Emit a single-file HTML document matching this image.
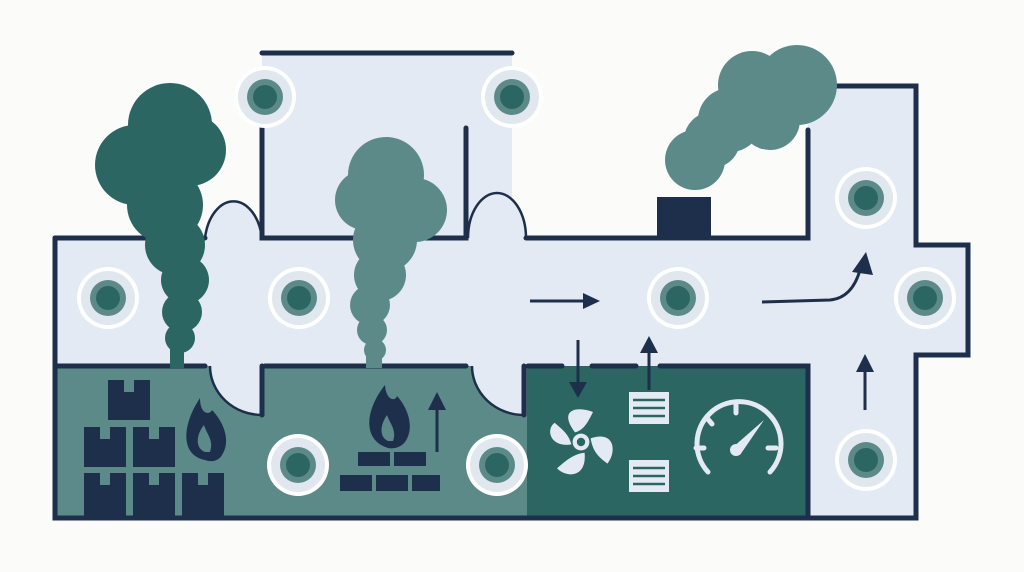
<!DOCTYPE html>
<html><head><style>html,body{margin:0;padding:0;background:#fbfbfa;}svg{display:block}</style></head>
<body>
<svg width="1024" height="572" viewBox="0 0 1024 572" xmlns="http://www.w3.org/2000/svg">
<defs>
<g id="c">
<circle r="31" fill="#fff"/><circle r="27" fill="#e0e7ee"/><circle r="18" fill="#5c8a89"/><circle r="12" fill="#2b6663"/>
</g>
</defs>
<rect width="1024" height="572" fill="#fbfbfa"/>
<rect x="262" y="53" width="250" height="190" fill="#e4eaf3"/>
<rect x="55" y="238" width="753" height="130" fill="#e4eaf3"/>
<rect x="808" y="86" width="108" height="432" fill="#e4eaf3"/>
<rect x="916" y="245" width="52" height="110" fill="#e4eaf3"/>
<path d="M205 238 A29 45 0 0 1 262 238 Z" fill="#e4eaf3"/>
<path d="M468 238 A29 45 0 0 1 526 238 Z" fill="#e4eaf3"/>
<rect x="55" y="366" width="472" height="152" fill="#5c8a89"/>
<rect x="527" y="366" width="281" height="152" fill="#2b6663"/>
<path d="M210 366 L262 366 L262 415 A52 49 0 0 1 210 366 Z" fill="#e4eaf3"/>
<path d="M472 366 L524 366 L524 415 A52 49 0 0 1 472 366 Z" fill="#e4eaf3"/>
<g stroke="#1e2f4b" stroke-width="5" fill="none" stroke-linecap="round">
<path d="M262 53 L512 53"/>
<path d="M262 92 L262 238 L466 238 L466 128"/>
<path d="M55 238 L205 238"/>
<path d="M526 238 L808 238 L808 130"/>
<path d="M836 86 L916 86 L916 245 L968 245 L968 355 L916 355 L916 518 L55 518 L55 238"/>
<path d="M55 366 L205 366 M265 366 L466 366 M528 366 L562 366 M592 366 L636 366 M660 366 L808 366 L808 518"/>
<path d="M262 366 L262 415"/><path d="M524 366 L524 415"/>
</g>
<g stroke="#1e2f4b" stroke-width="2.5" fill="none">
<path d="M205 238 A29 45 0 0 1 262 238"/><path d="M468 238 A29 45 0 0 1 526 238"/>
<path d="M210 366 A52 49 0 0 0 262 415"/><path d="M472 366 A52 49 0 0 0 524 415"/>
</g>
<rect x="657" y="197" width="54" height="41" fill="#1e2f4b"/>
<!-- smoke 1 -->
<g fill="#2b6663">
<circle cx="170" cy="125" r="42"/><circle cx="135" cy="165" r="40"/><circle cx="190" cy="150" r="36"/>
<circle cx="165" cy="205" r="38"/><circle cx="175" cy="245" r="30"/><circle cx="185" cy="280" r="24"/>
<circle cx="182" cy="312" r="20"/><circle cx="180" cy="338" r="15"/><rect x="170" y="340" width="14" height="28"/>
</g>
<!-- smoke 2 -->
<g fill="#5c8a89">
<circle cx="386" cy="175" r="38"/><circle cx="365" cy="200" r="30"/><circle cx="415" cy="210" r="32"/>
<circle cx="385" cy="240" r="32"/><circle cx="380" cy="275" r="26"/><circle cx="370" cy="305" r="20"/>
<circle cx="372" cy="330" r="15"/><circle cx="375" cy="350" r="11"/><rect x="366" y="350" width="16" height="18"/>
</g>
<!-- smoke 3 -->
<g fill="#5c8a89">
<circle cx="797" cy="85" r="40"/><circle cx="752" cy="85" r="34"/><circle cx="730" cy="120" r="32"/>
<circle cx="770" cy="120" r="30"/><circle cx="695" cy="160" r="30"/><circle cx="712" cy="140" r="28"/>
</g>
<use href="#c" x="265" y="97"/><use href="#c" x="512" y="97"/>
<use href="#c" x="108" y="298"/><use href="#c" x="299" y="298"/><use href="#c" x="678" y="298"/>
<use href="#c" x="866" y="198"/><use href="#c" x="925" y="298"/><use href="#c" x="866" y="460"/>
<use href="#c" x="298" y="465"/><use href="#c" x="497" y="465"/>
<g stroke="#1e2f4b" stroke-width="3" fill="#1e2f4b">
<path d="M530 301 L585 301" /><path d="M600 301 L583 293 L583 309 Z" stroke="none"/>
<path d="M762 302 L830 300 Q852 298 860 270" fill="none"/><path d="M866 252 L852 272 L873 275 Z" stroke="none"/>
<path d="M578 340 L578 385"/><path d="M578 398 L569 382 L587 382 Z" stroke="none"/>
<path d="M649 390 L649 350"/><path d="M649 336 L640 353 L658 353 Z" stroke="none"/>
<path d="M865 410 L865 370"/><path d="M865 354 L856 372 L874 372 Z" stroke="none"/>
<path d="M437 452 L437 405"/><path d="M437 392 L428 410 L446 410 Z" stroke="none"/>
</g>
<g fill="#1e2f4b">
<rect x="108" y="380" width="42" height="40"/><rect x="84" y="427" width="42" height="40"/><rect x="133" y="427" width="42" height="40"/>
<rect x="84" y="473" width="42" height="45"/><rect x="133" y="473" width="42" height="45"/><rect x="182" y="473" width="42" height="45"/>
</g>
<g fill="#5c8a89">
<rect x="124" y="380" width="10" height="12"/><rect x="100" y="427" width="10" height="12"/><rect x="149" y="427" width="10" height="12"/>
<rect x="100" y="473" width="10" height="12"/><rect x="149" y="473" width="10" height="12"/><rect x="198" y="473" width="10" height="12"/>
</g>
<g fill="#1e2f4b">
<path d="M205 460 C180 455 182 425 200 398 C200 415 210 415 212 410 C222 420 232 440 222 455 C218 462 210 462 205 460 Z"/>
<path d="M388 448 C362 440 365 410 385 385 C386 400 395 402 397 396 C408 408 415 428 405 442 C400 448 393 449 388 448 Z"/>
</g>
<g fill="#5c8a89"><path d="M205 452 C195 448 196 435 204 425 C207 435 214 440 210 452 Z"/><path d="M388 441 C379 437 380 425 387 415 C390 424 397 430 393 441 Z"/></g>
<g fill="#1e2f4b">
<rect x="358" y="452" width="32" height="14"/><rect x="394" y="452" width="32" height="14"/>
<rect x="340" y="475" width="32" height="16"/><rect x="376" y="475" width="32" height="16"/><rect x="412" y="475" width="28" height="16"/>
</g>
<g fill="#e4eaf3" transform="translate(581,442) scale(1.2)">
<circle r="7"/><circle r="3.5" fill="#2b6663"/>
<path d="M-5 -8 C-20 -28 -2 -30 10 -25 C5 -15 2 -10 -5 -8Z"/>
<path d="M8 -3 C28 -10 30 8 22 18 C14 12 10 8 8 -3Z"/>
<path d="M3 9 C5 30 -12 30 -20 22 C-12 15 -6 10 3 9Z"/>
<path d="M-8 2 C-25 5 -30 -10 -22 -16 C-15 -10 -10 -6 -8 2Z"/>
</g>
<rect x="629" y="392" width="40" height="32" fill="#e4eaf3"/>
<rect x="629" y="460" width="40" height="32" fill="#e4eaf3"/>
<g stroke="#2b6663" stroke-width="2.5"><path d="M633 400 H665 M633 408 H665 M633 416 H665 M633 468 H665 M633 476 H665 M633 484 H665"/></g>
<g stroke="#e4eaf3" stroke-width="5" fill="none" stroke-linecap="round">
<path d="M708 472 A42 42 0 1 1 770 472"/>
<path d="M736 405 V413 M707 418 L712 424 M696 448 H704 M768 448 H776"/>
</g>
<path d="M732 448 L764 420 L740 455 Z" fill="#e4eaf3"/><circle cx="736" cy="450" r="6" fill="#e4eaf3"/>
</svg>
</body></html>
